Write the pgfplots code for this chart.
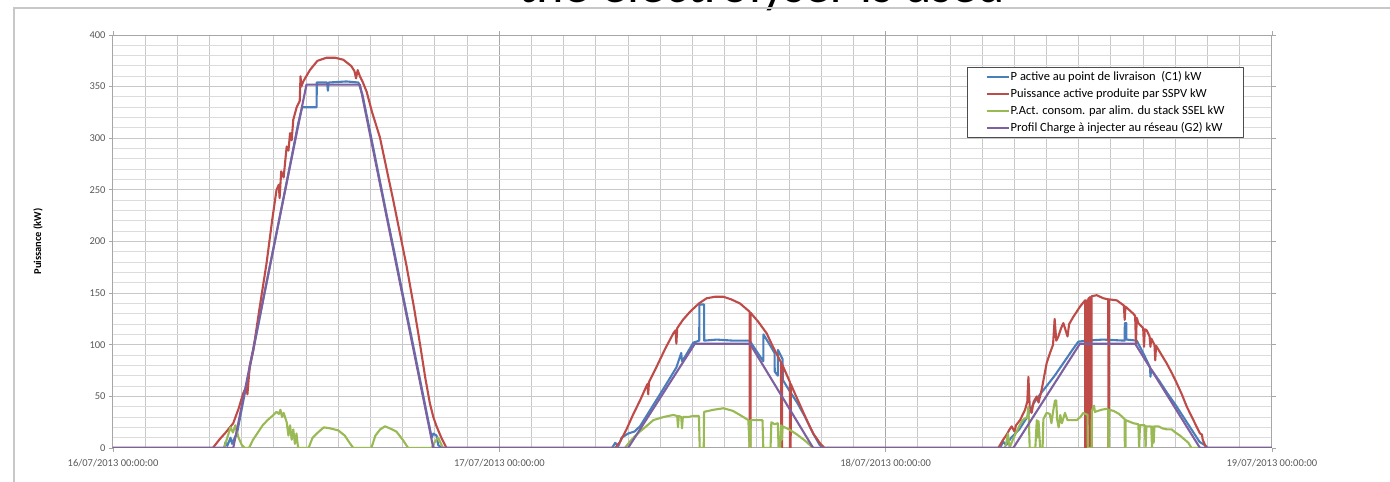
\documentclass[border=0pt]{standalone}
\usepackage{pgfplots}
\pgfplotsset{compat=1.18}
\usepackage{fontspec}
\setmainfont{Carlito}
\definecolor{cblue}{HTML}{4A7EBB}
\definecolor{cred}{HTML}{BE4B48}
\definecolor{cgreen}{HTML}{98B954}
\definecolor{cpurple}{HTML}{7D60A0}
\definecolor{gmid}{HTML}{A6A6A6}
\definecolor{gmaj}{HTML}{C8C8C8}
\definecolor{gmin}{HTML}{DCDCDC}
\definecolor{tickc}{HTML}{595959}
\begin{document}
\begin{tikzpicture}
\begin{axis}[
  name=ax,
  scale only axis, width=1159pt, height=413pt,
  at={(0pt,0pt)}, anchor=south west,
  xmin=0, xmax=72, ymin=0, ymax=400,
  xtick={0,24,48,72},
  xticklabels={16/07/2013 00:00:00,17/07/2013 00:00:00,18/07/2013 00:00:00,19/07/2013 00:00:00},
  minor xtick={2,4,...,70},
  ytick={0,50,...,400},
  minor ytick={10,20,...,390},
  xmajorgrids, xminorgrids, ymajorgrids, yminorgrids,
  major x grid style={gmid, line width=1pt},
  minor x grid style={gmaj, line width=1pt},
  major y grid style={gmaj, line width=1pt},
  minor y grid style={gmin, line width=1pt},
  tick align=outside, major tick length=4pt, minor tick length=0pt,
  tick style={gmid, line width=0.8pt},
  axis line style={gmid, line width=1pt},
  tick label style={font=\fontsize{10.5}{12}\selectfont, text=tickc},
  xticklabel style={yshift=-4pt},
  /pgf/number format/assume math mode=true,
  ylabel={Puissance (kW)},
  ylabel style={font=\bfseries\fontsize{10.5}{12}\selectfont, at={(axis description cs:-0.0647,0.5)}, anchor=center},
  legend style={at={(axis description cs:0.7368,0.9232)}, anchor=north west, draw=black!70, line width=1.2pt,
    font=\fontsize{12.5}{14}\selectfont, row sep=0pt, inner xsep=18pt, inner ysep=1pt,
    nodes={inner xsep=1pt, inner ysep=3.3pt}},
  legend cell align=left,
  legend image code/.code={\draw[#1, line width=2.2pt] (0pt,0pt) -- (22pt,0pt);},
  line join=round,
]
\addplot[cblue, line width=2.1pt, mark=none] coordinates {
(0,0) (6.9,0) (7.0,6) (7.1,2) (7.3,10) (7.4,4) (7.5,8) (7.7,14) (8.0,38) (8.5,78) (9.0,117) (9.5,157) (10.0,196) (10.5,235) (11.0,274) (11.5,314) (11.75,330) (12.65,330) (12.66,354) (13.3,354) (13.35,346) (13.4,354) (14.5,355) (15.25,354) (15.5,342) (16.0,304) (16.5,265) (17.0,226) (17.5,188) (18.0,149) (18.5,111) (19.0,72) (19.5,33) (19.8,10) (19.9,14) (20.1,12) (20.2,3) (20.4,0)
(31.0,0) (31.2,5) (31.4,2) (31.6,10) (32.0,14) (32.4,16) (32.74,21) (33.5,40) (34.3,60) (35.0,78) (35.3,92) (35.35,84) (35.6,90) (36.05,102) (36.42,104) (36.43,139) (36.72,139) (36.73,104) (37.5,105) (38.5,104) (39.55,104) (39.8,98) (40.4,84) (40.41,110) (40.8,100) (41.1,92) (41.11,74) (41.3,70) (41.31,95) (41.6,86) (41.61,66) (42.0,56) (42.5,44) (43.0,30) (43.5,14) (43.9,3) (44.1,0)
(55.1,0) (55.3,6) (55.5,3) (55.8,10) (56.3,18) (56.8,30) (57.18,43) (57.6,52) (58.0,60) (58.5,70) (59.25,87) (59.6,95) (59.97,103) (60.5,104) (61.5,105) (62.85,104) (62.86,121) (62.95,121) (62.96,105) (63.6,104) (64.0,92) (64.43,78) (64.45,69) (64.5,76) (65.0,65) (65.5,53) (66.0,42) (66.5,30) (67.0,18) (67.5,6) (67.9,2) (68.0,0) (72,0)
};
\addlegendentry{P active au point de livraison \ (C1) kW}
\addplot[cred, line width=2.1pt, mark=none] coordinates {
(0,0) (6.2,0) (6.6,8) (7.0,15) (7.47,24) (7.8,38) (8.09,53) (8.3,60) (8.35,52) (8.5,80) (8.72,95) (9.1,135) (9.54,179) (9.9,222) (10.16,250) (10.3,255) (10.35,242) (10.45,268) (10.6,262) (10.79,292) (10.9,288) (11.0,305) (11.1,298) (11.2,318) (11.41,330) (11.6,336) (11.65,360) (11.7,350) (11.82,355) (12.23,366) (12.7,375) (13.27,378) (13.8,378) (14.31,376) (14.8,370) (15.0,365) (15.1,358) (15.2,366) (15.34,360) (15.5,355) (15.76,345) (16.1,325) (16.58,301) (17.0,270) (17.41,240) (17.8,210) (18.24,176) (18.7,136) (19.07,101) (19.4,68) (19.69,43) (19.9,30) (20.1,21) (20.4,10) (20.72,0)
(31.2,0) (31.5,6) (31.9,18) (32.3,32) (32.74,46) (33.2,62) (33.25,52) (33.3,64) (33.78,79) (34.3,96) (34.81,111) (34.95,114) (35.0,101) (35.05,116) (35.4,124) (35.85,132) (36.4,140) (36.88,145) (37.4,146.5) (37.92,146.5) (38.4,144) (38.95,140) (39.55,132) (39.56,0) (39.6,0) (39.61,131) (40.1,122) (40.61,111) (41.0,98) (41.5,83) (41.51,0) (41.56,0) (41.57,81) (42.05,64) (42.06,0) (42.1,0) (42.11,62) (42.27,56) (42.7,41) (43.1,27) (43.5,14) (43.93,4.5) (44.2,0)
(55.0,0) (55.11,3) (55.3,8) (55.52,13) (55.7,18) (55.83,21) (56.0,16) (56.1,22) (56.35,27) (56.66,37) (56.8,45) (56.87,69) (56.95,40) (57.07,34) (57.2,45) (57.39,50) (57.5,44) (57.7,57) (58.0,82) (58.21,92) (58.4,100) (58.5,125) (58.6,104) (58.73,108) (58.9,116) (59.04,121) (59.3,108) (59.4,120) (59.66,127) (60.08,137) (60.39,143) (60.40,0) (60.45,143) (60.46,0) (60.52,143) (60.53,0) (60.6,145) (60.61,0) (60.68,146) (60.69,0) (60.78,147) (60.79,0) (60.8,147) (61.11,148) (61.53,145) (61.83,144) (61.84,0) (61.86,0) (61.87,144) (62.36,143) (62.8,138) (62.85,124) (62.9,137) (63.39,130) (63.5,128) (63.55,101) (63.6,126) (63.7,121) (64.0,116) (64.05,98) (64.1,115) (64.22,114) (64.4,108) (64.45,98) (64.5,106) (64.7,100) (64.75,85) (64.8,99) (64.84,98) (65.46,82) (65.8,72) (66.08,63) (66.4,52) (66.71,40) (67.12,27) (67.4,18) (67.53,14) (67.65,13) (67.7,8) (67.84,3) (67.9,0) (72,0)
};
\addlegendentry{Puissance active produite par SSPV kW}
\addplot[cgreen, line width=2.1pt, mark=none] coordinates {
(0,0) (6.9,0) (7.06,8) (7.3,20) (7.45,15) (7.6,22) (7.8,10) (8.0,3) (8.2,0) (8.45,0) (8.7,8) (9.0,15) (9.3,22) (9.6,27) (9.9,31) (10.16,35) (10.3,33) (10.4,37) (10.5,30) (10.6,34) (10.79,25) (10.9,12) (11.0,22) (11.1,8) (11.2,18) (11.3,4) (11.4,14) (11.5,0) (12.15,0) (12.4,10) (12.8,16) (13.1,20) (13.5,19) (14.0,17) (14.4,12) (14.7,5) (14.93,0) (16.05,0) (16.3,12) (16.6,18) (16.9,21) (17.2,19) (17.6,16) (18.0,8) (18.34,0) (19.8,0) (20.0,6) (20.2,10) (20.5,0)
(31.8,0) (32.1,6) (32.4,11) (32.74,16) (33.2,22) (33.57,27) (34.2,30) (34.81,32) (35.05,31) (35.1,20) (35.15,31) (35.3,30) (35.35,19) (35.4,30) (35.7,30) (36.05,31) (36.4,31) (36.45,0) (36.7,0) (36.72,35) (37.3,37) (37.92,38.5) (38.5,36) (38.95,32) (39.47,27) (39.55,0) (39.6,0) (39.62,27) (40.35,27) (40.4,0) (40.85,0) (40.9,25) (41.1,23) (41.3,24) (41.35,0) (41.45,0) (41.5,22) (41.55,8) (41.6,21) (42.0,18) (42.5,13) (43.0,7) (43.5,0)
(55.4,0) (55.5,5) (55.6,14) (55.7,0) (55.9,8) (56.2,18) (56.5,27) (56.8,30) (56.87,40) (56.95,0) (57.3,0) (57.39,27) (57.45,10) (57.5,26) (57.6,0) (57.75,0) (57.8,28) (58.0,34) (58.2,33) (58.3,24) (58.4,35) (58.52,46) (58.6,46) (58.65,28) (58.75,20) (58.85,32) (58.95,24) (59.14,34) (59.3,27) (59.45,27) (59.87,27) (60.1,30) (60.28,34) (60.55,32) (60.56,0) (60.8,0) (60.81,36) (60.95,41) (61.0,35) (61.4,37) (61.74,38) (61.83,37) (61.84,0) (61.87,0) (61.88,37) (62.15,36) (62.5,33) (62.85,28) (62.86,0) (62.9,0) (62.91,27) (63.39,24) (63.7,23) (63.75,0) (63.8,22) (64.1,22) (64.15,0) (64.2,21) (64.5,21) (64.55,0) (64.6,21) (64.65,5) (64.7,21) (64.94,21) (65.2,19) (65.5,18) (65.77,18) (66.0,15) (66.29,12) (66.81,5) (67.0,0) (72,0)
};
\addlegendentry{P.Act. consom. par alim. du stack SSEL kW}
\addplot[cpurple, line width=2.1pt, mark=none] coordinates {
(0,0) (7.47,0) (12.02,352) (15.34,352) (19.9,0) (32.0,0) (36.15,101) (39.57,101) (43.5,0) (55.93,0) (60.07,101) (63.5,101) (67.53,0) (72,0)
};
\addlegendentry{Profil Charge à injecter au réseau (G2) kW}
\end{axis}
\pgfresetboundingbox
\begin{scope}[shift={(ax.south west)}, x=1pt, y=1pt]
\path[use as bounding box] (-113,-34) rectangle (1277,448);
\node[anchor=base, inner sep=0pt, font=\fontsize{52}{60}\selectfont] at (649,445) {the electrolyser is used};
\draw[color=gmaj, line width=1.5pt] (-99,-40) -- (-99,440) -- (1280,440);
\end{scope}
\end{tikzpicture}
\end{document}
